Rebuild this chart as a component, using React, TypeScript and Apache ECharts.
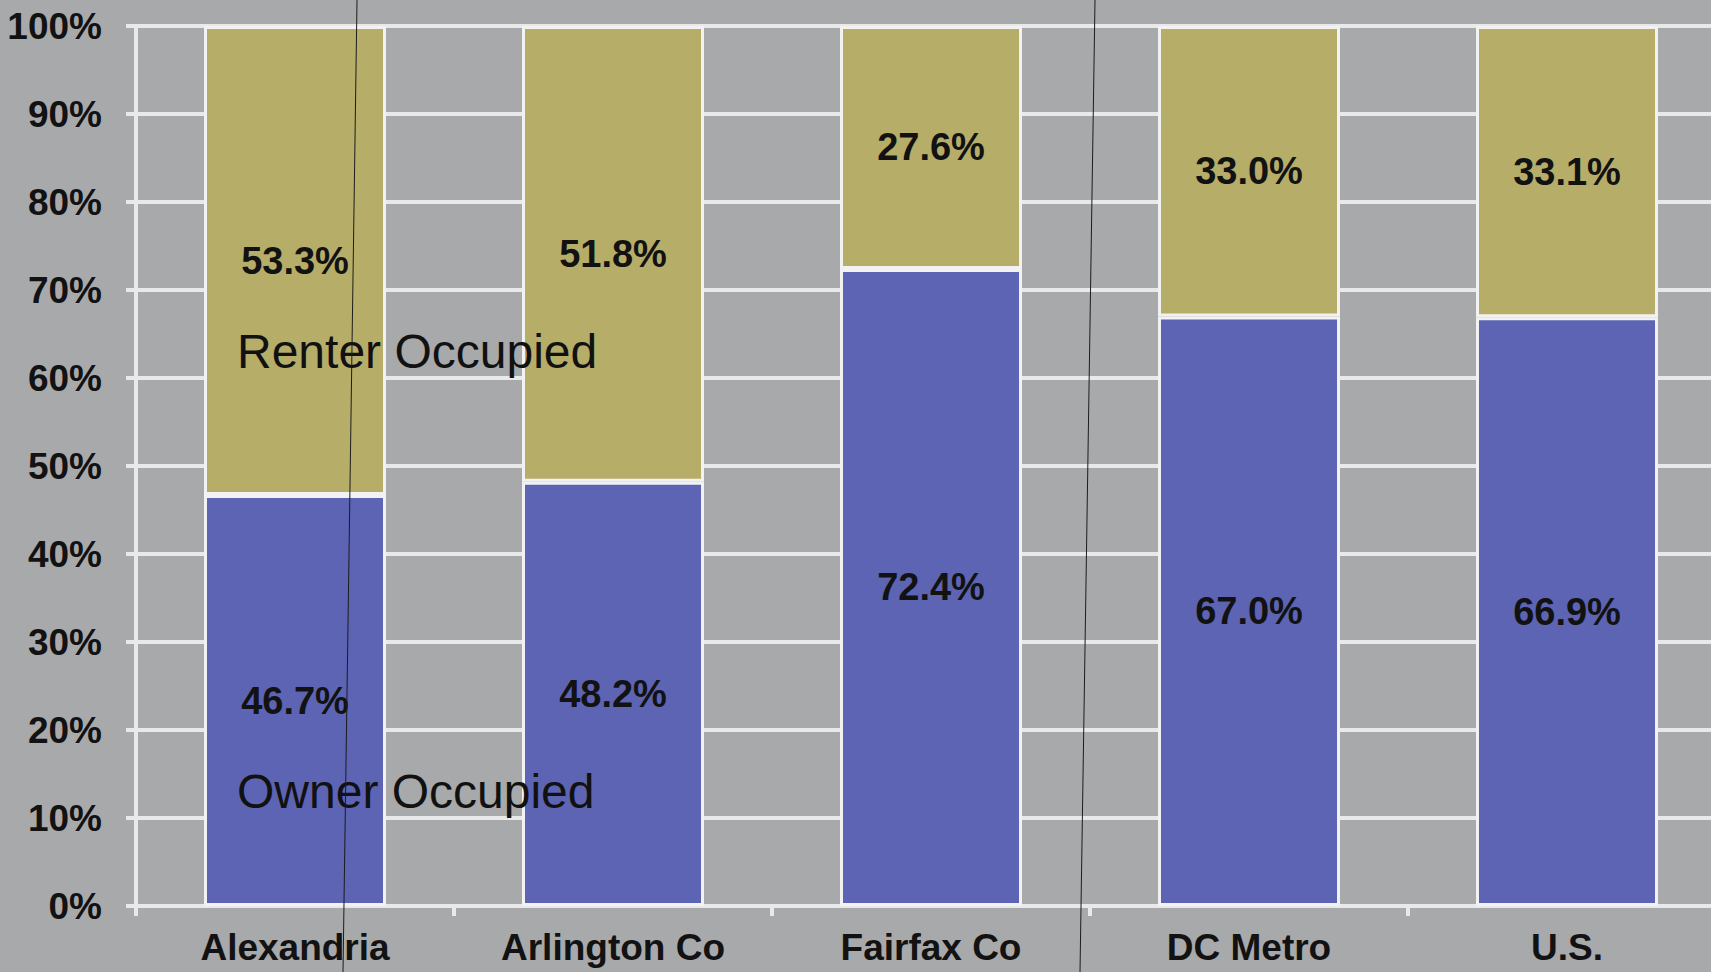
import React, { useEffect, useRef } from "react";
import * as echarts from "echarts";

const categories = ["Alexandria", "Arlington Co", "Fairfax Co", "DC Metro", "U.S."];
const ownerOccupied = [46.7, 48.2, 72.4, 67.0, 66.9];
const renterOccupied = [53.3, 51.8, 27.6, 33.0, 33.1];
const yMin = 0;
const yMax = 100;
const yInterval = 10;

const FONT = '"Liberation Sans", Arial, Helvetica, sans-serif';
const BG = "#a8a9ab";
const GRID = "#e9e9ea";

export default function App() {
  const ref = useRef<HTMLDivElement>(null);
  useEffect(() => {
    if (!ref.current) return;
    const chart = echarts.init(ref.current, null, { renderer: "svg" });
    const labelStyle = {
      show: true,
      position: "inside" as const,
      formatter: (p: any) => Number(p.value).toFixed(1) + "%",
      color: "#121212",
      fontFamily: FONT,
      fontWeight: "bold" as const,
      fontSize: 38,
    };
    chart.setOption({
      animation: false,
      backgroundColor: BG,
      grid: { left: 136, right: 0, top: 26, bottom: 66 },
      xAxis: {
        type: "category",
        data: categories,
        axisLine: { show: true, lineStyle: { color: GRID, width: 4 } },
        axisTick: { show: true, length: 10, lineStyle: { color: GRID, width: 4 } },
        axisLabel: {
          color: "#121212",
          fontFamily: FONT,
          fontWeight: "bold",
          fontSize: 37,
          margin: 23,
        },
        splitLine: { show: false },
      },
      yAxis: {
        type: "value",
        min: yMin,
        max: yMax,
        interval: yInterval,
        axisLine: { show: true, lineStyle: { color: GRID, width: 4 } },
        axisTick: { show: true, length: 10, lineStyle: { color: GRID, width: 4 } },
        axisLabel: {
          formatter: (v: number) => v + "%",
          color: "#121212",
          fontFamily: FONT,
          fontWeight: "bold",
          fontSize: 37,
          margin: 34,
        },
        splitLine: { show: true, lineStyle: { color: GRID, width: 4 } },
      },
      series: [
        {
          name: "Owner Occupied",
          type: "bar",
          stack: "total",
          data: ownerOccupied,
          barWidth: 182,
          itemStyle: { color: "#5c64b3", borderColor: "#f2f2f2", borderWidth: 3 },
          label: labelStyle,
        },
        {
          name: "Renter Occupied",
          type: "bar",
          stack: "total",
          data: renterOccupied,
          barWidth: 182,
          itemStyle: { color: "#b6ad68", borderColor: "#f2f2f2", borderWidth: 3 },
          label: labelStyle,
        },
      ],
      graphic: [
        {
          type: "text",
          x: 237,
          y: 351,
          z: 50,
          style: {
            text: "Renter Occupied",
            font: '48px "Liberation Sans", Arial, sans-serif',
            fill: "#111111",
            verticalAlign: "middle",
          },
        },
        {
          type: "text",
          x: 237,
          y: 791,
          z: 50,
          style: {
            text: "Owner Occupied",
            font: '48px "Liberation Sans", Arial, sans-serif',
            fill: "#111111",
            verticalAlign: "middle",
          },
        },
        {
          type: "line",
          z: 100,
          shape: { x1: 357, y1: 0, x2: 343, y2: 972 },
          style: { stroke: "#1c1c1c", lineWidth: 1 },
        },
        {
          type: "line",
          z: 100,
          shape: { x1: 1095, y1: 0, x2: 1080, y2: 972 },
          style: { stroke: "#1c1c1c", lineWidth: 1 },
        },
      ],
    });
    return () => chart.dispose();
  }, []);
  return (
    <div
      style={{
        position: "fixed",
        left: 0,
        top: 0,
        width: 1711,
        height: 972,
        overflow: "hidden",
        background: BG,
      }}
    >
      <div ref={ref} style={{ width: 1726, height: 972 }} />
    </div>
  );
}
